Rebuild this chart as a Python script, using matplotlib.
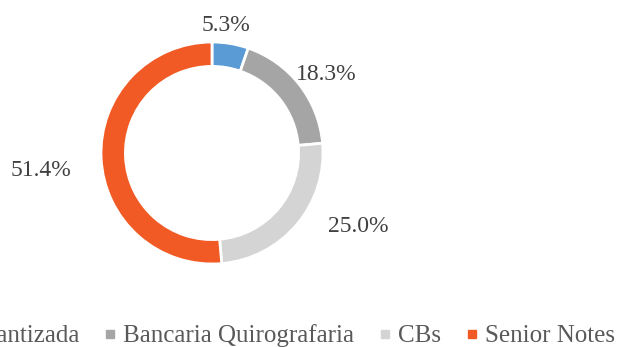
import matplotlib
matplotlib.use("Agg")
import numpy as np
import matplotlib.pyplot as plt
from matplotlib.lines import Line2D

categories = ["Bancaria Garantizada", "Bancaria Quirografaria", "CBs", "Senior Notes"]
shares = [5.3, 18.3, 25.0, 51.4]
colors = ["#5B9BD5", "#A5A5A5", "#D4D4D4", "#F15A24"]

# nudge of each value label (pixels) away from the wedge's outer edge
label_offsets = [(-4, 18), (27, 10), (61, -2), (-60, -13)]

plt.rcParams['font.family'] = ['Liberation Serif', 'DejaVu Serif']

fig = plt.figure(figsize=(6.18, 3.47), dpi=100)
ax = fig.add_axes([101 / 618, 83 / 347, 222 / 618, 222 / 347])

wedges, _ = ax.pie(shares, colors=colors, startangle=90, counterclock=False,
                   radius=1.0, wedgeprops=dict(width=0.22, edgecolor="white", linewidth=2))
ax.set_xlim(-1, 1)
ax.set_ylim(-1, 1)
ax.set_aspect("equal")
ax.axis("off")

for w, s, off in zip(wedges, shares, label_offsets):
    ang = np.deg2rad((w.theta1 + w.theta2) / 2)
    ax.annotate(f"{s:.1f}%", xy=(np.cos(ang), np.sin(ang)), xytext=off,
                textcoords="offset pixels", ha="center", va="center",
                fontsize=17, color="#404040", annotation_clip=False)

handles = [Line2D([0], [0], marker="s", linestyle="none", markersize=6,
                  markerfacecolor=c, markeredgecolor=c) for c in colors]
fig.legend(handles, categories, ncol=4, frameon=False, loc="center right",
           bbox_to_anchor=(615 / 618, 1 - 336 / 347), borderaxespad=0, borderpad=0,
           fontsize=18, handlelength=0.4, handletextpad=0.32, columnspacing=1.04,
           labelcolor="#595959")

fig.savefig("out.png", dpi=100)
